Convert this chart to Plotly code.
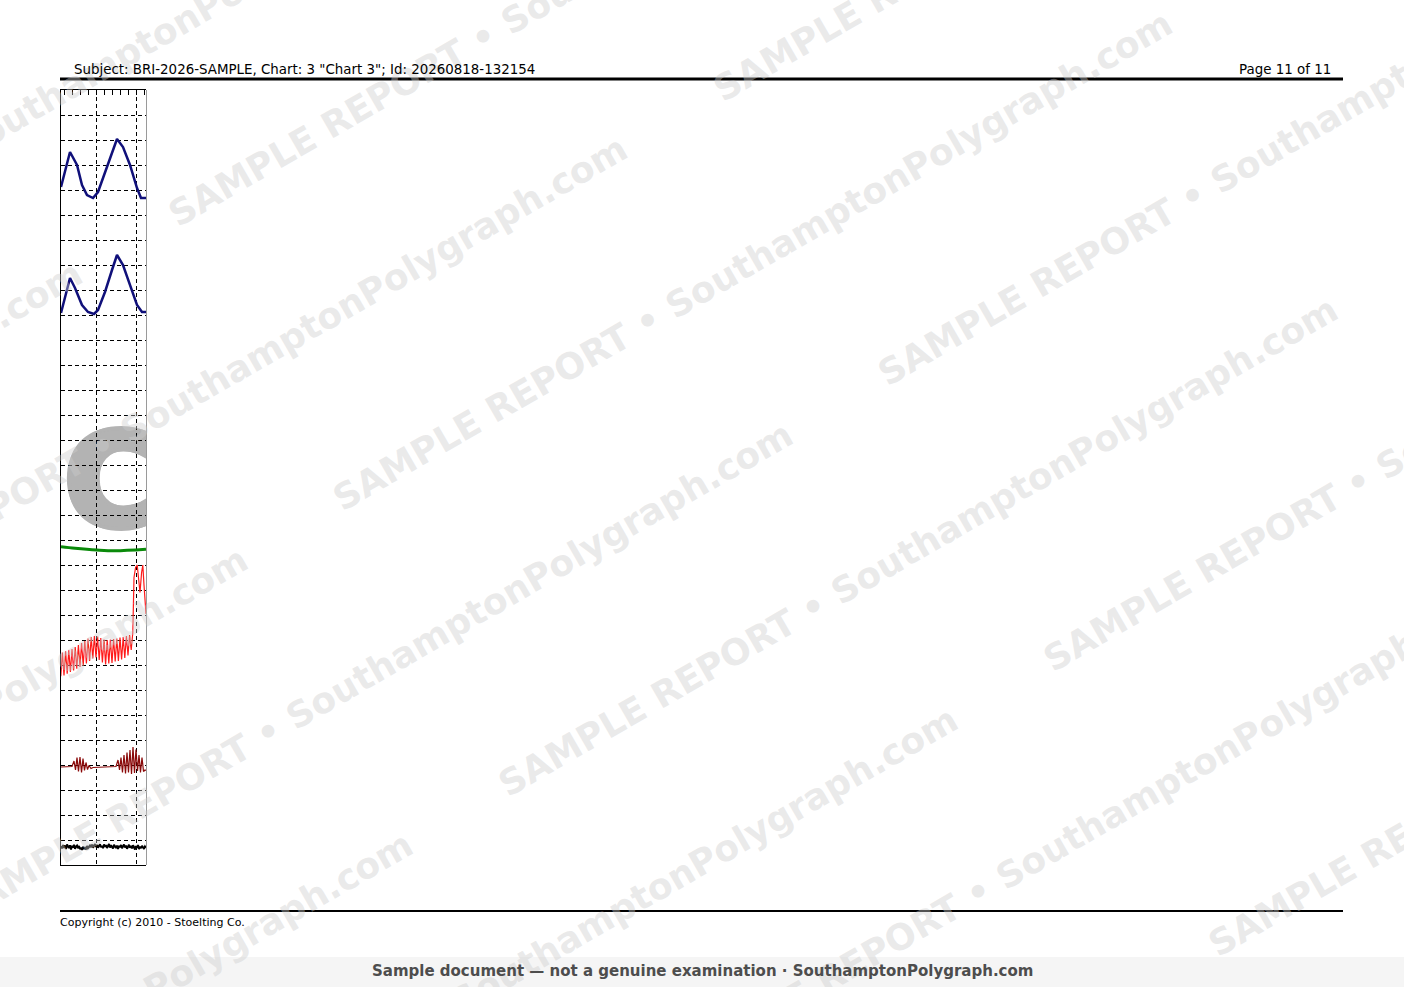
import plotly.graph_objects as go

W, H = 1404, 987

# ---------------- data (time in s, amplitude in grid divisions) ----------------
pneumo_upper_t = [0.625, 1.75, 2.625, 3.25, 3.875, 4.625, 5.25, 6.125, 7.0, 7.625, 8.375, 9.25, 10.125, 10.625, 11.25]
pneumo_upper_v = [27.12, 28.52, 28.0, 27.2, 26.8, 26.68, 26.92, 27.72, 28.52, 29.04, 28.72, 28.0, 27.08, 26.68, 26.68]

pneumo_lower_t = [0.625, 1.75, 2.375, 3.25, 4.0, 4.75, 5.25, 6.125, 7.0, 7.625, 8.375, 9.25, 10.125, 10.75, 11.25]
pneumo_lower_v = [22.08, 23.48, 23.08, 22.4, 22.12, 22.04, 22.2, 22.92, 23.8, 24.4, 24.0, 23.2, 22.4, 22.12, 22.12]

eda_t = [0.625, 2.375, 5.1, 7.375, 11.25]
eda_v = [12.73, 12.67, 12.6, 12.57, 12.63]

cardio_t = [0.6, 0.8, 1.0, 1.2, 1.4, 1.6, 1.8, 2.0, 2.2, 2.4, 2.6, 2.8, 3.0, 3.2, 3.4, 3.6,
            3.8, 4.0, 4.2, 4.4, 4.6, 4.8, 5.0, 5.2, 5.4, 5.6, 5.8, 6.0, 6.2, 6.4, 6.6, 6.8,
            7.0, 7.2, 7.4, 7.6, 7.8, 8.0, 8.2, 8.4, 8.6, 8.8, 9.0, 9.2, 9.4, 9.6,
            9.75, 9.95, 10.15, 10.3, 10.5, 10.7, 10.85, 11.0, 11.25]
cardio_v = [7.55, 8.5, 7.58, 8.55, 7.65, 8.6, 7.72, 8.64, 7.78, 8.72, 7.85, 8.8, 7.92, 8.88, 7.98, 8.96,
            8.06, 9.06, 8.16, 9.12, 8.26, 9.16, 8.3, 9.14, 8.2, 9.08, 8.1, 9.02, 8.02, 9.0, 8.06, 9.02,
            8.08, 9.04, 8.14, 9.06, 8.16, 9.1, 8.22, 9.12, 8.28, 9.16, 8.38, 9.2, 8.6, 9.3,
            11.5, 11.9, 12.0, 11.4, 10.9, 11.7, 12.0, 11.2, 10.04]

eda2_t = [0.625, 1.75, 2.0, 2.25, 2.44, 2.625, 2.81, 3.0, 3.19, 3.375, 3.56, 3.75, 3.94, 4.125, 4.375,
          4.625, 5.5, 6.75, 7.5, 7.75, 7.94, 8.125, 8.31, 8.5, 8.69, 8.875, 9.06, 9.25, 9.44, 9.625,
          9.81, 10.0, 10.19, 10.375, 10.56, 10.75, 10.94, 11.125, 11.25]
eda2_v = [3.92, 3.92, 3.94, 4.16, 3.8, 4.3, 3.74, 4.32, 3.7, 4.26, 3.78, 4.1, 3.82, 3.98, 3.86,
          3.9, 3.92, 3.92, 3.94, 4.2, 3.8, 4.3, 3.7, 4.4, 3.66, 4.5, 3.7, 4.6, 3.64, 4.72,
          3.68, 4.62, 3.76, 4.4, 3.7, 4.3, 3.74, 3.8, 3.78]

activity_t0 = 0.625
activity_dt = 0.125
activity_v = [0.76, 0.66, 0.80, 0.69, 0.78, 0.64, 0.82, 0.71, 0.68, 0.79, 0.62, 0.77, 0.70, 0.81, 0.65, 0.74, 0.78, 0.67, 0.76, 0.63,
              0.70, 0.60, 0.73, 0.64, 0.71, 0.62, 0.76, 0.67, 0.71, 0.80, 0.71, 0.82, 0.69, 0.77, 0.84, 0.72, 0.81, 0.69, 0.78, 0.83,
              0.71, 0.77, 0.67, 0.82, 0.73, 0.80, 0.68, 0.76, 0.84, 0.70, 0.79, 0.72, 0.66, 0.81, 0.73, 0.68, 0.78, 0.64, 0.77, 0.71,
              0.80, 0.67, 0.75, 0.82, 0.70, 0.78, 0.65, 0.74, 0.81, 0.69, 0.77, 0.66, 0.79, 0.71, 0.62, 0.76, 0.69, 0.80, 0.64, 0.73,
              0.67, 0.77, 0.70, 0.64, 0.74, 0.69]

question_label = "C"
question_t = 6.925
question_v = 14.9

x_range = [0.625, 11.25]
y_range = [0, 31]

header_text = 'Subject: BRI-2026-SAMPLE, Chart: 3 "Chart 3"; Id: 20260818-132154'
page_text = "Page 11 of 11"
footer_text = "Copyright (c) 2010 - Stoelting Co."
banner_text = "Sample document \u2014 not a genuine examination \u00b7 SouthamptonPolygraph.com"
wm_text = "SAMPLE REPORT \u2022 SouthamptonPolygraph.com"

FONT = "DejaVu Sans"
CGREY = "#b3b3b3"
c_shadow = ", ".join(f"{dx}px {dy}px 0 {CGREY}" for dx, dy in
                     [(4, 0), (-4, 0), (0, 4), (0, -4), (3, 3), (-3, -3), (3, -3), (-3, 3)])

# ---------------- figure ----------------
fig = go.Figure()

# subplot 1: big grey question label (under the grid)
fig.add_trace(go.Scatter(
    x=[question_t], y=[question_v], mode="text", text=[question_label],
    textposition="middle center", cliponaxis=True,
    textfont=dict(family=FONT, size=128, color=CGREY, weight="bold", shadow=c_shadow),
    xaxis="x", yaxis="y", hoverinfo="skip", showlegend=False))

# subplot 2: channels
common = dict(xaxis="x2", yaxis="y2", mode="lines", hoverinfo="skip", showlegend=False)
fig.add_trace(go.Scatter(x=pneumo_upper_t, y=pneumo_upper_v, line=dict(color="#10107a", width=2.5), **common))
fig.add_trace(go.Scatter(x=pneumo_lower_t, y=pneumo_lower_v, line=dict(color="#10107a", width=2.5), **common))
fig.add_trace(go.Scatter(x=eda_t, y=eda_v, line=dict(color="#0a8a0a", width=3, shape="spline"), **common))
fig.add_trace(go.Scatter(x=cardio_t, y=cardio_v, line=dict(color="#ff1a1a", width=1.2), **common))
fig.add_trace(go.Scatter(x=eda2_t, y=eda2_v, line=dict(color="#8b0a0a", width=1.2), **common))
fig.add_trace(go.Scatter(x0=activity_t0, dx=activity_dt, y=activity_v, line=dict(color="#000000", width=2), **common))

xd = [61 / W, 146 / W]
yd = [1 - 865 / H, 1 - 90 / H]
DASH = "4px,3px"

fig.update_layout(
    width=W, height=H, autosize=False,
    margin=dict(l=0, r=0, t=0, b=0, pad=0),
    paper_bgcolor="white", plot_bgcolor="rgba(0,0,0,0)",
    showlegend=False,
    xaxis=dict(domain=xd, range=x_range, visible=False, fixedrange=True),
    yaxis=dict(domain=yd, range=y_range, side="right", showline=True, linecolor="#9a9a9a", linewidth=1,
               showgrid=False, zeroline=False, ticks="", showticklabels=False, fixedrange=True),
    xaxis2=dict(domain=xd, range=x_range, anchor="y2", side="top",
                showline=True, mirror=True, linecolor="black", linewidth=1,
                showgrid=True, gridcolor="black", gridwidth=1, griddash=DASH,
                tick0=0, dtick=5, ticks="inside", ticklen=5, tickcolor="black", tickwidth=1,
                minor=dict(dtick=1, ticks="inside", ticklen=5, tickcolor="black", tickwidth=1, showgrid=False),
                showticklabels=False, zeroline=False, fixedrange=True),
    yaxis2=dict(domain=yd, range=y_range, anchor="x2", side="left",
                showline=True, linecolor="black", linewidth=1,
                showgrid=True, gridcolor="black", gridwidth=1, griddash=DASH,
                tick0=0, dtick=1, ticks="", showticklabels=False, zeroline=False, fixedrange=True),
)

# page furniture
shapes = [
    dict(type="rect", xref="paper", yref="paper", x0=0, x1=1, y0=0, y1=30 / H,
         fillcolor="#f5f5f5", line=dict(width=0), layer="below"),
    dict(type="line", xref="paper", yref="paper", x0=60 / W, x1=1343 / W, y0=1 - 79 / H, y1=1 - 79 / H,
         line=dict(color="black", width=3)),
    dict(type="line", xref="paper", yref="paper", x0=60 / W, x1=1343 / W, y0=1 - 911 / H, y1=1 - 911 / H,
         line=dict(color="black", width=2)),
]
fig.update_layout(shapes=shapes)

ann = []
# watermark lattice
c0 = (588, -24)
v1 = (165, 285)
v2 = (545, -125)
for k in range(-8, 9):
    for m in range(-8, 9):
        cx = c0[0] + k * v1[0] + m * v2[0]
        cy = c0[1] + k * v1[1] + m * v2[1]
        if -550 < cx < W + 550 and -350 < cy < H + 350:
            ann.append(dict(x=cx / W, y=1 - cy / H, xref="paper", yref="paper", text=wm_text,
                            showarrow=False, textangle=-30, xanchor="center", yanchor="middle",
                            font=dict(family=FONT, size=36, color="rgba(205,205,205,0.42)", weight="bold")))

ann += [
    dict(x=72 / W, y=1 - 69 / H, xref="paper", yref="paper", text=header_text, showarrow=False,
         xanchor="left", yanchor="middle", font=dict(family=FONT, size=13.4, color="black")),
    dict(x=1333 / W, y=1 - 69 / H, xref="paper", yref="paper", text=page_text, showarrow=False,
         xanchor="right", yanchor="middle", font=dict(family=FONT, size=13.4, color="black")),
    dict(x=58 / W, y=1 - 922 / H, xref="paper", yref="paper", text=footer_text, showarrow=False,
         xanchor="left", yanchor="middle", font=dict(family=FONT, size=11, color="black")),
    dict(x=0.5, y=1 - 971 / H, xref="paper", yref="paper", text=banner_text, showarrow=False,
         xanchor="center", yanchor="middle", font=dict(family=FONT, size=15, color="#4d4d4d", weight="bold")),
]
fig.update_layout(annotations=ann)

fig.write_html("out.html", config={"displayModeBar": False},
               post_script="document.body.style.margin='0';")
